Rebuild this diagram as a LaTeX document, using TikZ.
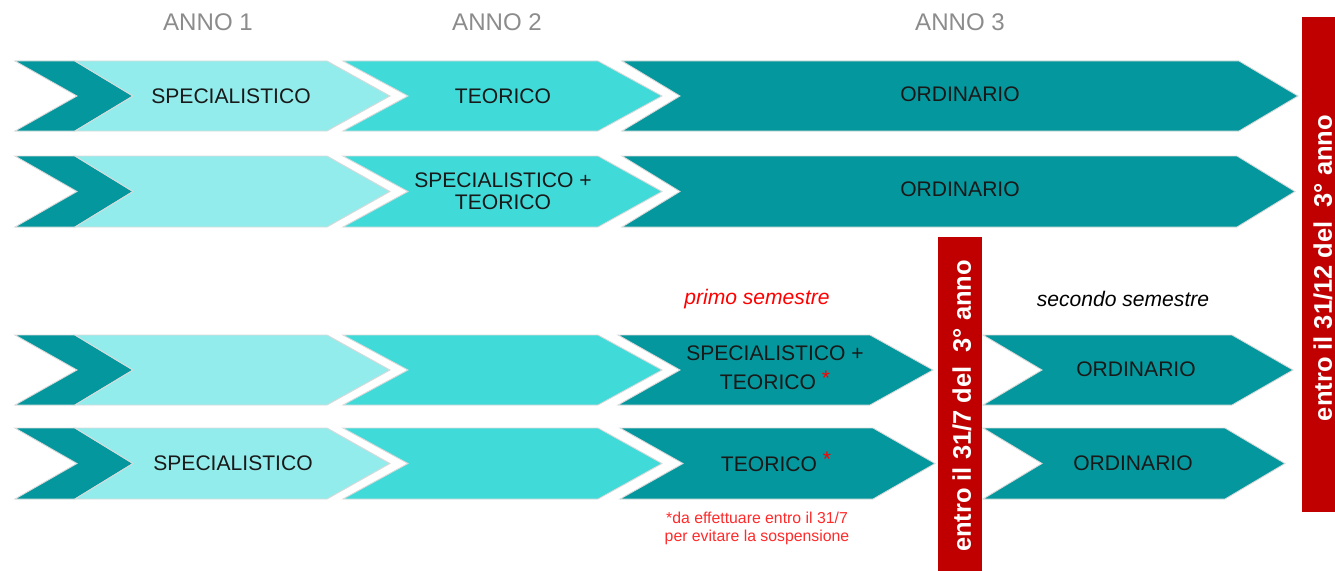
\documentclass[tikz,border=0pt]{standalone}
\usepackage{fontspec}
\setmainfont{Liberation Sans}
\usepackage{tikz}
\usetikzlibrary{positioning}

\definecolor{tealdark}{HTML}{04979D}
\definecolor{cyanmid}{HTML}{40DBD9}
\definecolor{cyanlite}{HTML}{93ECEC}
\definecolor{barred}{HTML}{C00000}
\definecolor{notered}{HTML}{FF2A2A}

\begin{document}
\begin{tikzpicture}[
    x=0.02cm, y=-0.02cm,
    darkarrow/.style={fill=tealdark, draw=black!15, line width=0.5pt},
    midarrow/.style={fill=cyanmid, draw=black!15, line width=0.5pt},
    litearrow/.style={fill=cyanlite, draw=black!15, line width=0.5pt},
    redbar/.style={fill=barred},
    lbl/.style={font=\fontsize{12}{12.5}\selectfont, align=center, text=black!90},
    yearlbl/.style={font=\fontsize{13.7}{15}\selectfont, text=black!45},
    semlbl/.style={font=\fontsize{12}{14}\selectfont\itshape},
    barlbl/.style={font=\fontsize{14.5}{16}\selectfont\bfseries, text=white, rotate=90}
    ]
    \useasboundingbox (0,0) rectangle (1335,571);

    %Row 1
    \fill[darkarrow] (15,61) -- (75,61) -- (133,96) -- (75,131) -- (15,131) -- (77,96) -- cycle;
    \fill[litearrow] (75,61) -- (327,61) -- (390,96) -- (327,131) -- (75,131) -- (133,96) -- cycle;
    \fill[midarrow] (343,61) -- (598,61) -- (662,96) -- (598,131) -- (343,131) -- (408,96) -- cycle;
    \fill[darkarrow] (622,61) -- (1239,61) -- (1298,96) -- (1239,131) -- (622,131) -- (680,96) -- cycle;

    %Row 2
    \fill[darkarrow] (15,156) -- (75,156) -- (133,191.5) -- (75,227) -- (15,227) -- (77,191.5) -- cycle;
    \fill[litearrow] (75,156) -- (327,156) -- (390,191.5) -- (327,227) -- (75,227) -- (133,191.5) -- cycle;
    \fill[midarrow] (343,156) -- (598,156) -- (662,191.5) -- (598,227) -- (343,227) -- (408,191.5) -- cycle;
    \fill[darkarrow] (622,156) -- (1237,156) -- (1295,191.5) -- (1237,227) -- (622,227) -- (680,191.5) -- cycle;

    %Row 3
    \fill[darkarrow] (15,335) -- (75,335) -- (133,370) -- (75,405) -- (15,405) -- (77,370) -- cycle;
    \fill[litearrow] (75,335) -- (327,335) -- (390,370) -- (327,405) -- (75,405) -- (133,370) -- cycle;
    \fill[midarrow] (343,335) -- (598,335) -- (662,370) -- (598,405) -- (343,405) -- (408,370) -- cycle;
    \fill[darkarrow] (618,335) -- (870,335) -- (933,370) -- (870,405) -- (618,405) -- (680,370) -- cycle;
    \fill[darkarrow] (983,335) -- (1232,335) -- (1293,370) -- (1232,405) -- (983,405) -- (1042,370) -- cycle;

    %Row 4
    \fill[darkarrow] (15,428) -- (75,428) -- (133,463.5) -- (75,499) -- (15,499) -- (77,463.5) -- cycle;
    \fill[litearrow] (75,428) -- (327,428) -- (390,463.5) -- (327,499) -- (75,499) -- (133,463.5) -- cycle;
    \fill[midarrow] (343,428) -- (598,428) -- (662,463.5) -- (598,499) -- (343,499) -- (408,463.5) -- cycle;
    \fill[darkarrow] (620,428) -- (873,428) -- (935,463.5) -- (873,499) -- (620,499) -- (683,463.5) -- cycle;
    \fill[darkarrow] (983,428) -- (1225,428) -- (1285,463.5) -- (1225,499) -- (983,499) -- (1042,463.5) -- cycle;

    %Bars
    \fill[redbar] (938,237) rectangle (982,571);
    \fill[redbar] (1302,17) rectangle (1335,512);
    \node[barlbl] (bar1) at (962,406) {entro il 31/7 del \ 3° anno};
    \node[barlbl] (bar2) at (1323,268) {entro il 31/12 del \ 3° anno};

    %Years
    \node[yearlbl] (y1) at (208,22) {ANNO 1};
    \node[yearlbl] (y2) at (497,22) {ANNO 2};
    \node[yearlbl] (y3) at (960,22) {ANNO 3};

    %Labels
    \node[lbl] (r1a) at (231,96) {SPECIALISTICO};
    \node[lbl] (r1b) at (503,96) {TEORICO};
    \node[lbl] (r1c) at (960,94) {ORDINARIO};
    \node[lbl] (r2b) at (503,191) {SPECIALISTICO +\\TEORICO};
    \node[lbl] (r2c) at (960,189) {ORDINARIO};
    \node[lbl, font=\fontsize{12}{16.4}\selectfont] (r3c) at (775,368) {SPECIALISTICO +\\TEORICO \raisebox{2.5pt}{\textcolor{red}{*}}};
    \node[lbl] (r3d) at (1136,369) {ORDINARIO};
    \node[lbl] (r4a) at (233,463) {SPECIALISTICO};
    \node[lbl] (r4c) at (776,462) {TEORICO \raisebox{2.5pt}{\textcolor{red}{*}}};
    \node[lbl] (r4d) at (1133,463) {ORDINARIO};

    %Semesters
    \node[semlbl, text=red] (sem1) at (757,299) {primo semestre};
    \node[semlbl, text=black] (sem2) at (1123,299) {secondo semestre};
    \node[font=\fontsize{9}{10.2}\selectfont, text=notered, align=center] (note) at (757,528) {*da effettuare entro il 31/7\\per evitare la sospensione};

    \end{tikzpicture}
\end{document}
